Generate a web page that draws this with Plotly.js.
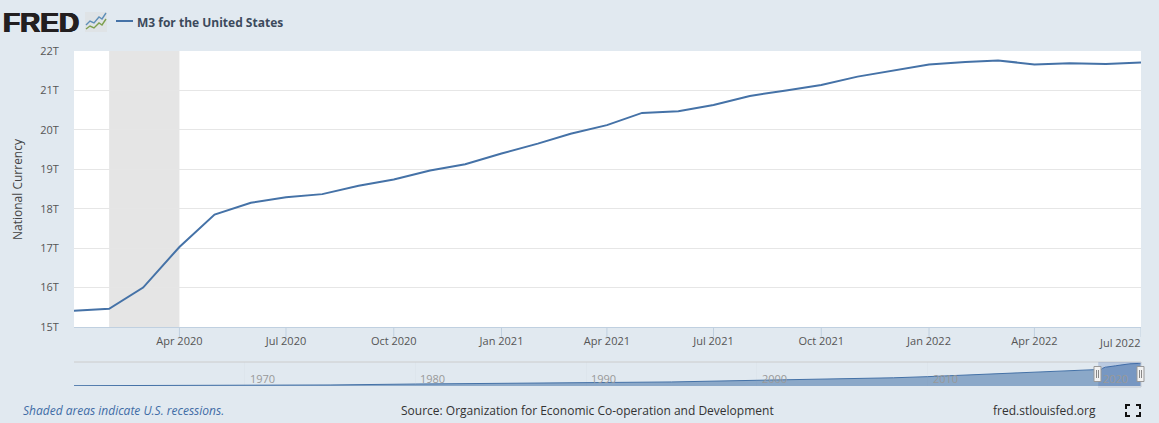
<!DOCTYPE html>
<html>
<head>
<meta charset="utf-8">
<script src="https://cdn.plot.ly/plotly-3.0.1.min.js"></script>
<style>html,body{margin:0;padding:0;background:#e1e9f0;overflow:hidden}#c{width:1159px;height:423px}</style>
</head>
<body>
<div id="c"></div>
<script>
const seriesName = "M3 for the United States";
const yAxisTitle = "National Currency";
const months = ["2020-01-01","2020-02-01","2020-03-01","2020-04-01","2020-05-01","2020-06-01","2020-07-01","2020-08-01","2020-09-01","2020-10-01","2020-11-01","2020-12-01","2021-01-01","2021-02-01","2021-03-01","2021-04-01","2021-05-01","2021-06-01","2021-07-01","2021-08-01","2021-09-01","2021-10-01","2021-11-01","2021-12-01","2022-01-01","2022-02-01","2022-03-01","2022-04-01","2022-05-01","2022-06-01","2022-07-01"];
const m3Values = [15.41,15.46,16.0,17.03,17.85,18.15,18.29,18.37,18.58,18.74,18.97,19.13,19.4,19.65,19.9,20.12,20.43,20.47,20.63,20.86,21.0,21.14,21.35,21.5,21.66,21.72,21.76,21.66,21.69,21.67,21.71];
const xTickVals = ["2020-04-01","2020-07-01","2020-10-01","2021-01-01","2021-04-01","2021-07-01","2021-10-01","2022-01-01","2022-04-01","2022-07-01"];
const xTickText = ["Apr 2020","Jul 2020","Oct 2020","Jan 2021","Apr 2021","Jul 2021","Oct 2021","Jan 2022","Apr 2022",""];
const lastTickText = "Jul 2022";
const yTickVals = [15,16,17,18,19,20,21,22];
const yTickText = ["15T","16T","17T","18T","19T","20T","21T","22T"];
const recession = ["2020-02-01","2020-04-01"];
const historyDates = ["1960-01-01","1965-01-01","1970-01-01","1975-01-01","1980-01-01","1985-01-01","1990-01-01","1995-01-01","2000-01-01","2005-01-01","2008-01-01","2010-01-01","2012-01-01","2015-01-01","2018-01-01"];
const historyValues = [0.3,0.45,0.65,1.0,1.9,2.7,3.3,3.9,5.5,6.8,7.9,9.0,10.3,12.2,14.1];
const navTicks = ["1970-01-01","1980-01-01","1990-01-01","2000-01-01","2010-01-01","2020-01-01"];
const navLabels = ["1970","1980","1990","2000","2010","2020"];

const F = '"Open Sans", sans-serif';
const px = x => (x - 74) / 1067;
const py = y => (386 - y) / 335;
const rect = (x0, y0, x1, y1, fill, line, w) => ({type:"rect", xref:"paper", yref:"paper", x0:px(x0), x1:px(x1), y0:py(y0), y1:py(y1), fillcolor:fill, line:{color:line||"rgba(0,0,0,0)", width:w||0}, layer:"above"});
const seg = (pts, color, w) => ({type:"path", xref:"paper", yref:"paper", path:pts.map((p,i)=>(i?"L":"M")+px(p[0])+" "+py(p[1])).join(" "), line:{color:color, width:w}, layer:"above"});
const txt = (s, x, y, size, color, anchor, extra) => Object.assign({text:s, xref:"paper", yref:"paper", x:px(x), y:py(y), xanchor:anchor||"left", yanchor:"middle", showarrow:false, font:{family:F, size:size, color:color}, borderpad:0, borderwidth:0}, extra||{});

const navX = historyDates.concat(months);
const navY = historyValues.concat(m3Values);

const traces = [
  {x:months, y:m3Values, type:"scatter", mode:"lines", line:{color:"#4572a7", width:2}, xaxis:"x", yaxis:"y", hoverinfo:"x+y", cliponaxis:true},
  {x:navX, y:navY, type:"scatter", mode:"lines", fill:"tozeroy", fillcolor:"rgba(69,114,167,0.55)", line:{color:"#4572a7", width:1}, xaxis:"x2", yaxis:"y2", hoverinfo:"skip"}
];

const shapes = [
  {type:"rect", xref:"x domain", yref:"y domain", x0:0, x1:1, y0:0, y1:1, fillcolor:"#ffffff", line:{width:0}, layer:"below"},
  {type:"rect", xref:"x", yref:"y domain", x0:recession[0], x1:recession[1], y0:0, y1:1, fillcolor:"#e5e5e5", line:{width:0}, layer:"below"},
  seg([[74,362],[1141,362]], "#cccccc", 1),
  {type:"rect", xref:"x2", yref:"y2 domain", x0:months[0], x1:months[months.length-1], y0:0, y1:1, fillcolor:"rgba(51,92,173,0.22)", line:{width:0}, layer:"above"},
  seg([[1098,387],[1141,387],[1141,362]], "#c4c9d2", 1),
  rect(116,20,133,22,"#4572a7"),
  rect(85,12,107,32,"#dfe3e6"),
  seg([[86,25],[90,21],[94,23],[99,17],[102,19],[106,13]], "#5e8fb8", 1.4),
  seg([[86,29],[90,26],[94,28],[99,23],[102,25],[106,19]], "#7ea04f", 1.4)
];
xTickVals.forEach(t => shapes.push({type:"line", xref:"x", yref:"paper", x0:t, x1:t, y0:py(327), y1:py(337), line:{color:"#c0d0e0", width:1}, layer:"above"}));
[1097.5,1140.5].forEach(hx => {
  shapes.push(rect(hx-3.5,366.5,hx+3.5,381.5,"#f2f2f2","#999999",1));
  shapes.push(seg([[hx-1,370],[hx-1,378]],"#888888",1));
  shapes.push(seg([[hx+1,370],[hx+1,378]],"#888888",1));
});
[[1126,409,1126,405,1130,405],[1136,405,1140,405,1140,409],[1126,412,1126,416,1130,416],[1136,416,1140,416,1140,412]].forEach(a=>{
  shapes.push(seg([[a[0],a[1]],[a[2],a[3]],[a[4],a[5]]],"#111111",2));
});

const annotations = [
  txt("<b>FRED</b>", 3, 22, 28, "#231f20", "left", {font:{family:'"Liberation Sans", sans-serif', size:28, color:"#231f20", shadow:"0.7px 0 0 #231f20, -0.7px 0 0 #231f20, 0 0.4px 0 #231f20"}}),
  txt("<b>"+seriesName+"</b>", 137, 22, 12, "#3c4a5c"),
  txt(yAxisTitle, 17, 189, 12, "#444444", "center", {textangle:-90}),
  txt("Shaded areas indicate U.S. recessions.", 23, 410, 12, "#3f6ca6", "left", {font:{family:F, size:12, color:"#3f6ca6", style:"italic"}}),
  txt("Source: Organization for Economic Co-operation and Development", 401, 410, 12, "#333333"),
  txt("fred.stlouisfed.org", 993, 410, 12, "#333333"),
  txt(lastTickText, 1141, 342, 11, "#555555", "right")
];
navTicks.forEach((t,i)=>annotations.push({text:navLabels[i], xref:"x2", yref:"paper", x:t, y:py(378), xanchor:"left", yanchor:"middle", xshift:3, showarrow:false, font:{family:F, size:11, color:"#999999"}}));

const layout = {
  width:1159, height:423,
  margin:{l:74, r:18, t:51, b:37},
  paper_bgcolor:"#e1e9f0", plot_bgcolor:"#e1e9f0",
  showlegend:false,
  shapes:shapes,
  annotations:annotations,
  font:{family:F, size:11, color:"#555555"},
  xaxis:{type:"date", domain:[0,1], anchor:"y", range:["2020-01-02", months[months.length-1]], tickmode:"array", tickvals:xTickVals, ticktext:xTickText, ticks:"outside", ticklen:4, tickwidth:1, tickcolor:"rgba(0,0,0,0)", showline:true, linecolor:"#c0d0e0", linewidth:1, showgrid:false, zeroline:false, tickfont:{family:F, size:11, color:"#555555"}, tickangle:0, fixedrange:true},
  yaxis:{domain:[py(327),1], anchor:"x", range:[15,22], tickmode:"array", tickvals:yTickVals, ticktext:yTickText, ticks:"outside", ticklen:12, tickcolor:"rgba(0,0,0,0)", showline:false, showgrid:true, gridcolor:"#e6e6e6", gridwidth:1, zeroline:false, tickfont:{family:F, size:11, color:"#555555"}, fixedrange:true},
  xaxis2:{type:"date", domain:[0,1], anchor:"y2", range:["1960-01-01", months[months.length-1]], tickmode:"array", tickvals:navTicks, showticklabels:false, ticks:"", showgrid:true, gridcolor:"#dde5ec", gridwidth:1, showline:false, zeroline:false, fixedrange:true},
  yaxis2:{domain:[0,py(362)], anchor:"x2", range:[0,23.1], showticklabels:false, ticks:"", showgrid:false, zeroline:false, showline:false, fixedrange:true}
};
Plotly.newPlot("c", traces, layout, {displayModeBar:false, responsive:false});
</script>
</body>
</html>
